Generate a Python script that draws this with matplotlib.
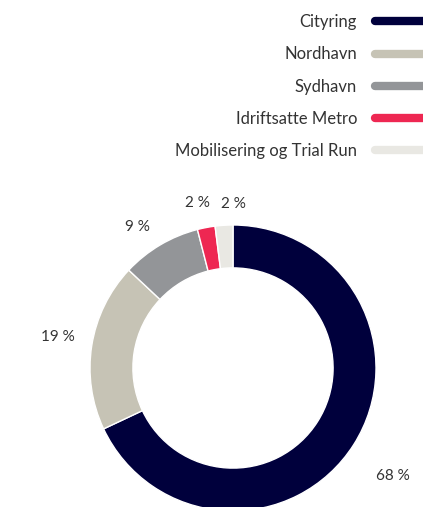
import numpy as np
import matplotlib.pyplot as plt
from matplotlib.lines import Line2D

plt.rcParams['font.family'] = ['Lato', 'DejaVu Sans']

# data
labels = ['Cityring', 'Nordhavn', 'Sydhavn', 'Idriftsatte Metro', 'Mobilisering og Trial Run']
shares = [68, 19, 9, 2, 2]
colors = ['#00003c', '#c6c3b5', '#939598', '#ee2752', '#e9e8e3']
pct_text = ['68 %', '19 %', '9 %', '2 %', '2 %']

# label placement tweaks (radius, extra angle in degrees)
lab_r = [1.35, 1.24, 1.19, 1.18, 1.15]
lab_da = [-1.6, -1.0, 3.4, 1.2, -3.6]

fig = plt.figure(figsize=(4.23, 5.07), dpi=100)
ax = fig.add_axes([0, 0, 1, 1])

wedges, _ = ax.pie(shares, colors=colors, startangle=90, counterclock=False,
                   radius=1, wedgeprops=dict(width=0.3, edgecolor='white', linewidth=1))

# put the ring centre at (233, 368) px with radius 143 px
cx, cy, rpx = 233, 368, 143
ax.set_xlim(-cx / rpx, (423 - cx) / rpx)
ax.set_ylim((cy - 507) / rpx, cy / rpx)
ax.set_aspect('equal')
ax.axis('off')

# percentage labels
total = sum(shares)
cum = np.cumsum([0] + shares)
for i, txt in enumerate(pct_text):
    mid = 90 - (cum[i] + shares[i] / 2) / total * 360 + lab_da[i]
    a = np.deg2rad(mid)
    ax.text(lab_r[i] * np.cos(a), lab_r[i] * np.sin(a), txt, ha='center', va='center',
            fontsize=11, color='#333333')

handles = [Line2D([0], [0], color=c, lw=6, solid_capstyle='round') for c in colors]
leg = ax.legend(handles, labels, loc='upper right', bbox_to_anchor=(1.06, 0.985),
                frameon=False, markerfirst=False, fontsize=12, labelspacing=0.97,
                handlelength=4, handletextpad=1.08, borderaxespad=0)
for t in leg.get_texts():
    t.set_color('#333333')

fig.savefig('out.png', dpi=100)
